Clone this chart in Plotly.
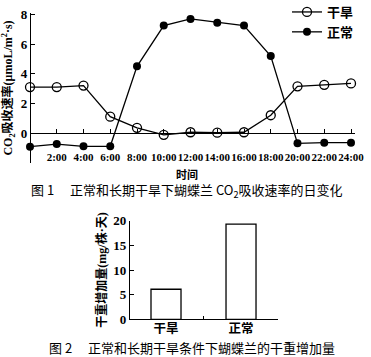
import plotly.graph_objects as go

# ---- data ----
hours = [0, 2, 4, 6, 8, 10, 12, 14, 16, 18, 20, 22, 24]
hour_labels = ["2:00", "4:00", "6:00", "8:00", "10:00", "12:00", "14:00",
               "16:00", "18:00", "20:00", "22:00", "24:00"]
drought_rate = [3.1, 3.1, 3.2, 1.1, 0.35, -0.12, 0.05, 0.02, 0.05, 1.2, 3.15, 3.25, 3.35]
normal_rate = [-0.92, -0.75, -0.9, -0.9, 4.5, 7.25, 7.7, 7.45, 7.25, 5.2, -0.7, -0.65, -0.65]
groups = ["干旱", "正常"]
dry_gain = [6.1, 19.3]

W, H = 371, 357
def px(x):
    return x / W
def py(y):
    return 1 - y / H

SERIF = "Liberation Serif, Noto Sans CJK SC"
CJK = "Noto Sans CJK SC"

fig = go.Figure()
fig.add_trace(go.Scatter(
    x=hours, y=drought_rate, name="干旱", mode="lines+markers",
    line=dict(color="black", width=1.3),
    marker=dict(symbol="circle-open", size=9, color="black", line=dict(width=1.3)),
    cliponaxis=False, xaxis="x", yaxis="y"))
fig.add_trace(go.Scatter(
    x=hours, y=normal_rate, name="正常", mode="lines+markers",
    line=dict(color="black", width=1.3),
    marker=dict(symbol="circle", size=8, color="black"),
    cliponaxis=False, xaxis="x", yaxis="y"))
fig.add_trace(go.Bar(
    x=groups, y=dry_gain, width=0.4, showlegend=False,
    marker=dict(color="white", line=dict(color="black", width=1.3)),
    xaxis="x2", yaxis="y2"))

# chart 1 axes: y zero at px 133, 8 at px 14.5
y1_top, y1_bot = 13, 163
yr = 8 / (133 - 14.5)
y1_range = [-(y1_bot - 133) * yr, 8 + (14.5 - y1_top) * yr]

fig.update_layout(
    width=W, height=H,
    margin=dict(l=0, r=0, t=0, b=0, pad=0, autoexpand=False),
    paper_bgcolor="white", plot_bgcolor="white",
    font=dict(family=SERIF, color="black", size=12),
    showlegend=True,
    legend=dict(x=px(287), y=py(-3), xanchor="left", yanchor="top",
                font=dict(family=SERIF, size=13, weight="bold"),
                bgcolor="rgba(0,0,0,0)", tracegroupgap=0, itemwidth=30),
    xaxis=dict(domain=[px(30), px(355)], range=[0, (355 - 30) / 13.375],
               anchor="free", position=py(133),
               showline=True, linecolor="black", linewidth=1.2,
               showgrid=False, zeroline=False,
               tickmode="array", tickvals=hours[1:], ticktext=hour_labels,
               ticks="inside", ticklen=4, tickcolor="black", tickangle=0,
               ticklabelstandoff=14,
               tickfont=dict(family=SERIF, size=11, weight="bold")),
    yaxis=dict(domain=[py(y1_bot), py(y1_top)], range=y1_range,
               anchor="free", position=px(30),
               showline=True, linecolor="black", linewidth=1.2,
               showgrid=False, zeroline=False,
               tickmode="array", tickvals=[-2, 0, 2, 4, 6, 8],
               ticktext=["", "0", "2", "4", "6", "8"],
               ticks="inside", ticklen=4, tickcolor="black",
               tickfont=dict(family=SERIF, size=13, weight="bold"),
               title=dict(text="CO<sub>2</sub>吸收速率(μmoL/m<sup>2</sup>·s)",
                          font=dict(family=SERIF, size=12, weight="bold"),
                          standoff=6)),
    xaxis2=dict(domain=[px(130), px(278)], range=[-0.48, 1.493],
                anchor="y2", showline=True, linecolor="black", linewidth=1.2,
                showgrid=False, zeroline=False, type="category",
                tickson="boundaries", ticks="inside", ticklen=3, tickcolor="black",
                tickangle=0, ticklabelstandoff=-2,
                tickfont=dict(family=SERIF, size=12.5, weight="bold")),
    yaxis2=dict(domain=[py(319.3), py(220.7)], range=[0, 20],
                anchor="x2", showline=True, linecolor="black", linewidth=1.2,
                showgrid=False, zeroline=False,
                tickvals=[0, 5, 10, 15, 20],
                ticks="inside", ticklen=4, tickcolor="black",
                tickfont=dict(family=SERIF, size=13, weight="bold"),
                title=dict(text="干重增加量(mg/株·天)",
                           font=dict(family=SERIF, size=12, weight="bold"),
                           standoff=4)),
    annotations=[
        dict(text="时间", x=px(187), y=py(174), xref="paper", yref="paper",
             xanchor="center", yanchor="middle",
             showarrow=False, font=dict(family=SERIF, size=11, weight="bold")),
        dict(text="图 1　 正常和长期干旱下蝴蝶兰 CO<sub>2</sub>吸收速率的日变化",
             x=px(187), y=py(190), xref="paper", yref="paper",
             xanchor="center", yanchor="middle",
             showarrow=False, font=dict(family=CJK, size=13)),
        dict(text="图 2　 正常和长期干旱条件下蝴蝶兰的干重增加量",
             x=px(192), y=py(347), xref="paper", yref="paper",
             xanchor="center", yanchor="middle",
             showarrow=False, font=dict(family=CJK, size=13)),
    ],
)

fig.write_html("out.html", config={"displayModeBar": False},
               post_script="document.body.style.margin='0';")
